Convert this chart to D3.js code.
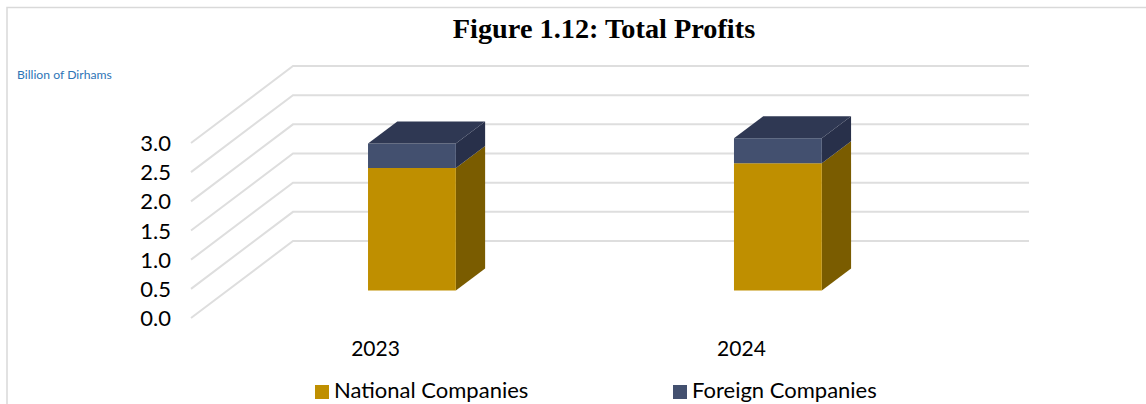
<!DOCTYPE html>
<html><head><meta charset="utf-8">
<script src="https://cdn.jsdelivr.net/npm/d3@7"></script>
<style>html,body{margin:0;padding:0;background:#fff}svg{display:block}</style>
</head><body><div id="chart"></div>
<script>
const categories = ["2023", "2024"];
const seriesNames = ["National Companies", "Foreign Companies"];
const national = [2.10, 2.18];
const foreign = [0.42, 0.43];
const yTicks = [0, 0.5, 1, 1.5, 2, 2.5, 3];
const colors = {
  front: ["#BF8F00", "#43506F"],
  side: ["#7A5C00", "#28304A"],
  top: ["#BF8F00", "#2F3853"]
};

const W = 1146, H = 404;
const svg = d3.select("#chart").append("svg").attr("width", W).attr("height", H);

// frame
svg.append("path").attr("d", d3.line()([[7, H], [7, 7.5], [W, 7.5]]))
  .attr("fill", "none").attr("stroke", "#d9d9d9").attr("stroke-width", 1.5);

// title
svg.append("text").attr("x", 604).attr("y", 38).attr("text-anchor", "middle")
  .attr("font-family", "Liberation Serif").attr("font-weight", "bold").attr("font-size", 28.3)
  .attr("fill", "#000").text("Figure 1.12: Total Profits");
svg.append("text").attr("x", 17).attr("y", 79)
  .attr("font-family", "Lato").attr("font-size", 12.2).attr("fill", "#2E75B6").text("Billion of Dirhams");

// 3D projection: the value scale is the floor-front plane, depth pushes up and right
const y = d3.scaleLinear().domain([0, 3]).range([318, 143]);
const x = d3.scaleBand().domain(categories).range([191, 926]).paddingInner(0.76).paddingOuter(0.3842);
const floorDepth = { dx: 102, dy: -77 };
const floorRight = 927;
const barDepthStart = 0.357;
const barDepthSpan = 0.287;
const project = (px, v, d) => [px + floorDepth.dx * d, y(v) + floorDepth.dy * d];
const poly = pts => "M" + pts.map(p => p.join(",")).join("L") + "Z";

// gridlines
const grid = svg.append("g").attr("fill", "none").attr("stroke", "#dedede").attr("stroke-width", 2);
yTicks.forEach(t => {
  grid.append("path").attr("d", d3.line()([project(191, t, 0), project(191, t, 1), project(floorRight, t, 1)]));
});

// y labels
svg.append("g").selectAll("text").data(yTicks).join("text")
  .attr("x", 171).attr("y", d => y(d) + 8).attr("text-anchor", "end")
  .attr("font-family", "Lato").attr("font-size", 22).attr("fill", "#000")
  .text(d => d3.format(".1f")(d));

// bars
const d0 = barDepthStart, d1 = barDepthStart + barDepthSpan;
categories.forEach((c, i) => {
  const g = svg.append("g");
  const xl = x(c), xr = xl + x.bandwidth();
  let base = 0;
  [national[i], foreign[i]].forEach((val, s) => {
    const top = base + val;
    g.append("path").attr("fill", colors.side[s])
      .attr("d", poly([project(xr, base, d0), project(xr, top, d0), project(xr, top, d1), project(xr, base, d1)]));
    g.append("path").attr("fill", colors.front[s])
      .attr("d", poly([project(xl, base, d0), project(xr, base, d0), project(xr, top, d0), project(xl, top, d0)]));
    base = top;
  });
  g.append("path").attr("fill", colors.top[1])
    .attr("d", poly([project(xl, base, d0), project(xr, base, d0), project(xr, base, d1), project(xl, base, d1)]));
  svg.append("text").attr("x", xl + x.bandwidth() / 2).attr("y", 356).attr("text-anchor", "middle")
    .attr("font-family", "Lato").attr("font-size", 21).attr("fill", "#000").text(c);
});

// legend
const legendX = [315, 673];
seriesNames.forEach((n, i) => {
  svg.append("rect").attr("x", legendX[i]).attr("y", 385).attr("width", 14).attr("height", 14).attr("fill", colors.front[i]);
  svg.append("text").attr("x", legendX[i] + 19).attr("y", 398)
    .attr("font-family", "Lato").attr("font-size", 22).attr("fill", "#000").text(n);
});
</script></body></html>
